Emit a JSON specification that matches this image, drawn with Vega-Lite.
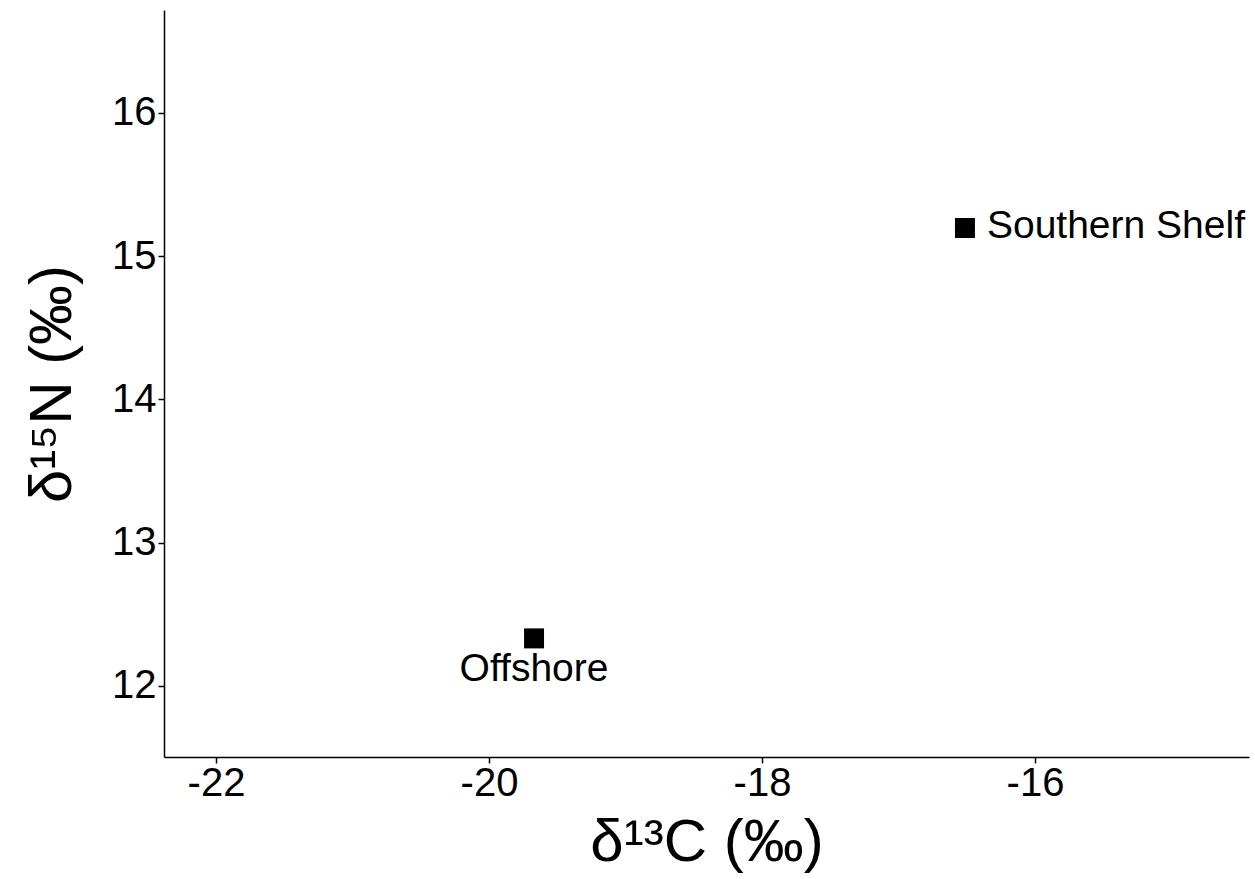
{
  "$schema": "https://vega.github.io/schema/vega-lite/v6.json",
  "width": 1085,
  "height": 747,
  "autosize": {"type": "none"},
  "padding": {"left": 164, "top": 10, "right": 6, "bottom": 122},
  "background": "white",
  "config": {
    "font": "Liberation Sans",
    "view": {"stroke": null},
    "axis": {
      "grid": false,
      "domainColor": "black",
      "domainWidth": 1.5,
      "tickColor": "black",
      "tickWidth": 1.5,
      "tickSize": 6,
      "labelColor": "black",
      "labelFontSize": 40,
      "labelFont": "Liberation Sans",
      "titleFont": "Liberation Sans",
      "titleFontSize": 60,
      "titleFontWeight": "normal",
      "titleColor": "black",
      "labelExpr": "'' + datum.value"
    }
  },
  "data": {
    "values": [
      {"site": "Offshore", "d13C": -19.67, "d15N": 12.332},
      {"site": "Southern Shelf", "d13C": -16.513, "d15N": 15.197}
    ]
  },
  "encoding": {
    "x": {
      "field": "d13C",
      "type": "quantitative",
      "scale": {"domain": [-22.381, -14.432], "nice": false, "zero": false},
      "axis": {"title": "δ¹³C (‰)", "values": [-22, -20, -18, -16], "labelPadding": 0, "titlePadding": 10}
    },
    "y": {
      "field": "d15N",
      "type": "quantitative",
      "scale": {"domain": [11.504, 16.719], "nice": false, "zero": false},
      "axis": {"title": "δ¹⁵N (‰)", "values": [12, 13, 14, 15, 16], "labelPadding": 2, "titlePadding": 28}
    }
  },
  "layer": [
    {"mark": {"type": "point", "shape": "square", "filled": true, "size": 400, "color": "black", "opacity": 1}},
    {
      "transform": [{"filter": "datum.site === 'Offshore'"}],
      "mark": {"type": "text", "align": "center", "baseline": "alphabetic", "dy": 43, "fontSize": 39, "color": "black"},
      "encoding": {"text": {"field": "site"}}
    },
    {
      "transform": [{"filter": "datum.site === 'Southern Shelf'"}],
      "mark": {"type": "text", "align": "left", "baseline": "alphabetic", "dx": 22, "dy": 10, "fontSize": 39, "color": "black"},
      "encoding": {"text": {"field": "site"}}
    }
  ]
}
